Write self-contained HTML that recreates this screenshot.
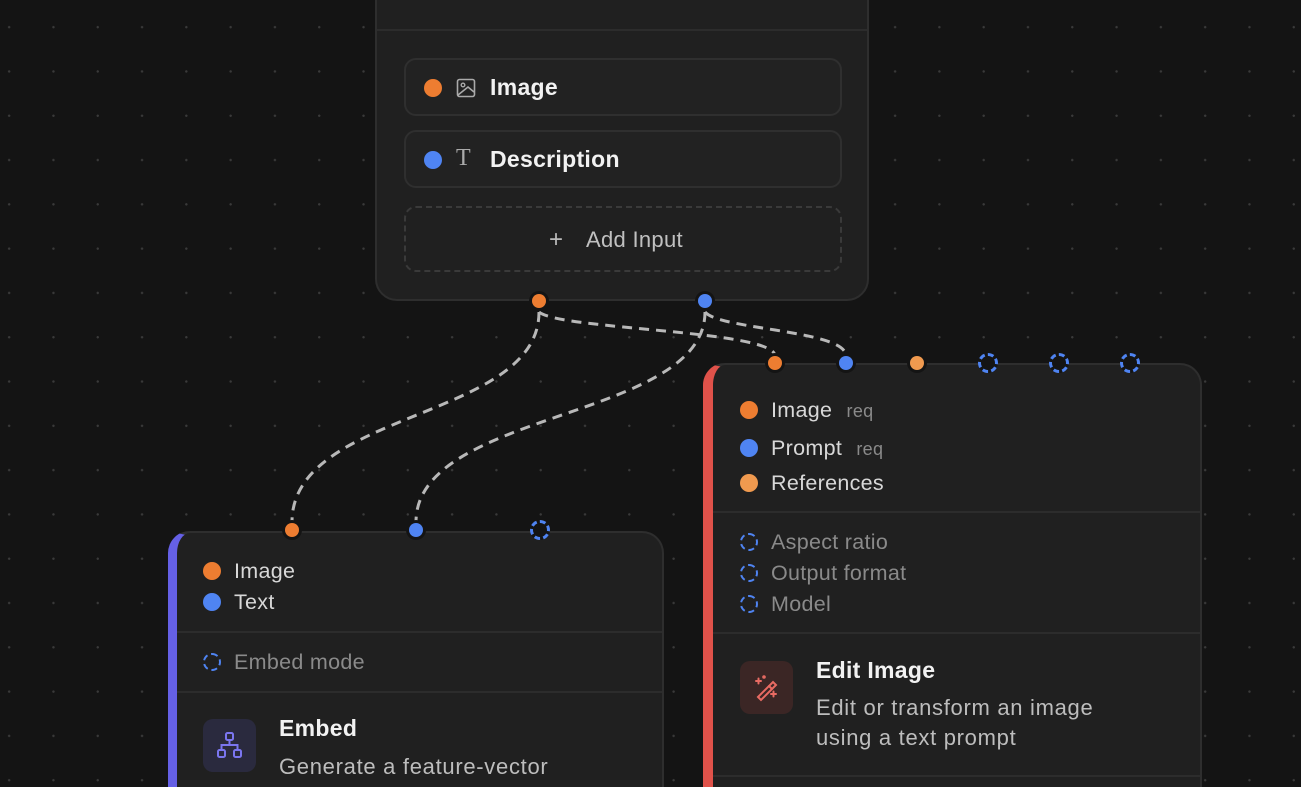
<!DOCTYPE html>
<html style="width:1301px;height:787px;overflow:hidden"><head><meta charset="utf-8"><style>
*{box-sizing:border-box;margin:0;padding:0}
body{width:1301px;height:787px;overflow:hidden;background:#141414;position:relative;font-family:"Liberation Sans",sans-serif;
background-image:radial-gradient(circle,#3a3a3a 1px,transparent 1.4px);background-size:44.3px 44.3px;background-position:-13px 5px}
.node{position:absolute;background:#202020;border:2px solid #2e2e2e;border-bottom:none;border-radius:22px 22px 0 0;overflow:hidden}
.abs{position:absolute}
.dot{position:absolute;width:16px;height:16px;border-radius:50%}
.o{background:#ed7d31}.b{background:#4f84f2}.lo{background:#f09a4f}
.dash{position:absolute;width:16px;height:16px;border-radius:50%;border:2px dashed #4f84f2}
.t{position:absolute;font-size:21.5px;color:#d8d8d8;white-space:nowrap;letter-spacing:0.3px}
.d{font-size:22px;letter-spacing:0.7px}
.g{color:#8a8a8a}
.sep{position:absolute;left:0;right:0;height:2px;background:#2c2c2c}
.port{position:absolute;width:20px;height:20px;border-radius:50%;background:#141414}
.port i{position:absolute;left:3px;top:3px;width:14px;height:14px;border-radius:50%}
.port.d{background:none}
.port.d i{border:3px dashed #4f84f2;left:0;top:0;width:20px;height:20px;background:#141414}
</style></head><body>

<!-- top node -->
<div class="node" style="left:375px;top:-30px;width:494px;height:331px;border-bottom:2px solid #2e2e2e;border-radius:22px">
  <div class="sep" style="top:57px"></div>
  <div class="abs" style="left:27px;top:86px;width:438px;height:58px;border:2px solid #2f2f2f;border-radius:12px;background:#222"></div>
  <div class="abs" style="left:27px;top:158px;width:438px;height:58px;border:2px solid #2f2f2f;border-radius:12px;background:#222"></div>
  <div class="abs" style="left:27px;top:234px;width:438px;height:66px;border:2px dashed #3a3a3a;border-radius:12px"></div>
  <div class="dot o" style="left:47px;top:107px;width:18px;height:18px"></div>
  <svg class="abs" style="left:79px;top:106px" width="20" height="20" viewBox="0 0 20 20"><rect x="1.5" y="1.5" width="17" height="17" rx="2" fill="none" stroke="#aaa" stroke-width="1.6"/><circle cx="7" cy="7" r="1.8" fill="none" stroke="#aaa" stroke-width="1.4"/><path d="M2 17 L12 9 L18 14" fill="none" stroke="#aaa" stroke-width="1.6"/></svg>
  <div class="t" style="left:113px;top:102px;font-size:23px;font-weight:bold;color:#f2f2f2">Image</div>
  <div class="dot b" style="left:47px;top:179px;width:18px;height:18px"></div>
  <div class="t" style="left:79px;top:173px;font-family:'Liberation Serif',serif;font-size:24px;color:#aaa">T</div>
  <div class="t" style="left:113px;top:174px;font-size:23px;font-weight:bold;color:#f2f2f2">Description</div>
  <div class="t" style="left:172px;top:254px;font-size:24px;color:#bbb;font-weight:300">+</div>
  <div class="t" style="left:209px;top:255px;font-size:22px;color:#c0c0c0">Add Input</div>
</div>

<!-- edges -->
<svg class="abs" style="left:0;top:0" width="1301" height="787">
<g fill="none" stroke="#b8b8b8" stroke-width="3" stroke-dasharray="10,7">
<path d="M539 312 C539 420 292 410 292 522"/>
<path d="M705 312 C705 420 416 410 416 522"/>
<path d="M539 312 C560 330 775 330 775 356"/>
<path d="M705 312 C720 330 846 330 846 356"/>
</g></svg>

<!-- Edit image node -->
<div class="node" style="left:703px;top:363px;width:499px;height:424px;border-left:10px solid #e0524a">
  <div class="sep" style="top:146px"></div>
  <div class="sep" style="top:267px"></div>
  <div class="sep" style="top:410px"></div>
  <div class="dot o" style="left:27px;top:36px;width:18px;height:18px"></div>
  <div class="t" style="left:58px;top:33px">Image <span class="g" style="font-size:18px;margin-left:8px">req</span></div>
  <div class="dot b" style="left:27px;top:74px;width:18px;height:18px"></div>
  <div class="t" style="left:58px;top:71px">Prompt <span class="g" style="font-size:18px;margin-left:8px">req</span></div>
  <div class="dot lo" style="left:27px;top:109px;width:18px;height:18px"></div>
  <div class="t" style="left:58px;top:106px">References</div>
  <div class="dash" style="left:27px;top:168px;width:18px;height:18px"></div>
  <div class="t g" style="left:58px;top:165px">Aspect ratio</div>
  <div class="dash" style="left:27px;top:199px;width:18px;height:18px"></div>
  <div class="t g" style="left:58px;top:196px">Output format</div>
  <div class="dash" style="left:27px;top:230px;width:18px;height:18px"></div>
  <div class="t g" style="left:58px;top:227px">Model</div>
  <div class="abs" style="left:27px;top:296px;width:53px;height:53px;border-radius:10px;background:#3b2625"></div>
  <svg class="abs" style="left:39px;top:308px" width="30" height="30" viewBox="0 0 30 30"><g fill="none" stroke="#e86b63" stroke-width="2" stroke-linecap="round"><path d="M6 24 L21 9 L24 12 L9 27 Z"/><path d="M17 13 L20 16"/><path d="M4 8h5M6.5 5.5v5M19 21h5M21.5 18.5v5"/><circle cx="12" cy="4" r="0.8"/></g></svg>
  <div class="t" style="left:103px;top:292px;font-weight:bold;color:#f2f2f2;font-size:23px">Edit Image</div>
  <div class="t d" style="left:103px;top:330px;color:#bdbdbd">Edit or transform an image</div>
  <div class="t d" style="left:103px;top:360px;color:#bdbdbd">using a text prompt</div>
</div>
<div class="port" style="left:765px;top:353px"><i class="o"></i></div>
<div class="port" style="left:836px;top:353px"><i class="b"></i></div>
<div class="port" style="left:907px;top:353px"><i class="lo"></i></div>
<div class="port d" style="left:978px;top:353px"><i></i></div>
<div class="port d" style="left:1049px;top:353px"><i></i></div>
<div class="port d" style="left:1120px;top:353px"><i></i></div>

<!-- Embed node -->
<div class="node" style="left:168px;top:531px;width:496px;height:256px;border-left:9px solid #6560e6">
  <div class="sep" style="top:98px"></div>
  <div class="sep" style="top:158px"></div>
  <div class="dot o" style="left:26px;top:29px;width:18px;height:18px"></div>
  <div class="t" style="left:57px;top:26px">Image</div>
  <div class="dot b" style="left:26px;top:60px;width:18px;height:18px"></div>
  <div class="t" style="left:57px;top:57px">Text</div>
  <div class="dash" style="left:26px;top:120px;width:18px;height:18px"></div>
  <div class="t g" style="left:57px;top:117px">Embed mode</div>
  <div class="abs" style="left:26px;top:186px;width:53px;height:53px;border-radius:10px;background:#2a2a3e"></div>
  <svg class="abs" style="left:38px;top:198px" width="30" height="30" viewBox="0 0 30 30"><g fill="none" stroke="#7b76f0" stroke-width="2"><rect x="11" y="2" width="7" height="7" rx="1.5"/><rect x="3" y="19" width="7" height="7" rx="1.5"/><rect x="19" y="19" width="7" height="7" rx="1.5"/><path d="M14.5 9v5M6.5 19v-5h16v5"/></g></svg>
  <div class="t" style="left:102px;top:182px;font-weight:bold;color:#f2f2f2;font-size:23px">Embed</div>
  <div class="t d" style="left:102px;top:221px;color:#bdbdbd">Generate a feature-vector</div>
  <div class="t d" style="left:102px;top:251px;color:#bdbdbd">embedding of an image</div>
</div>
<div class="port" style="left:282px;top:520px"><i class="o"></i></div>
<div class="port" style="left:406px;top:520px"><i class="b"></i></div>
<div class="port d" style="left:530px;top:520px"><i></i></div>

<div class="port" style="left:529px;top:291px"><i class="o"></i></div>
<div class="port" style="left:695px;top:291px"><i class="b"></i></div>
</body></html>
